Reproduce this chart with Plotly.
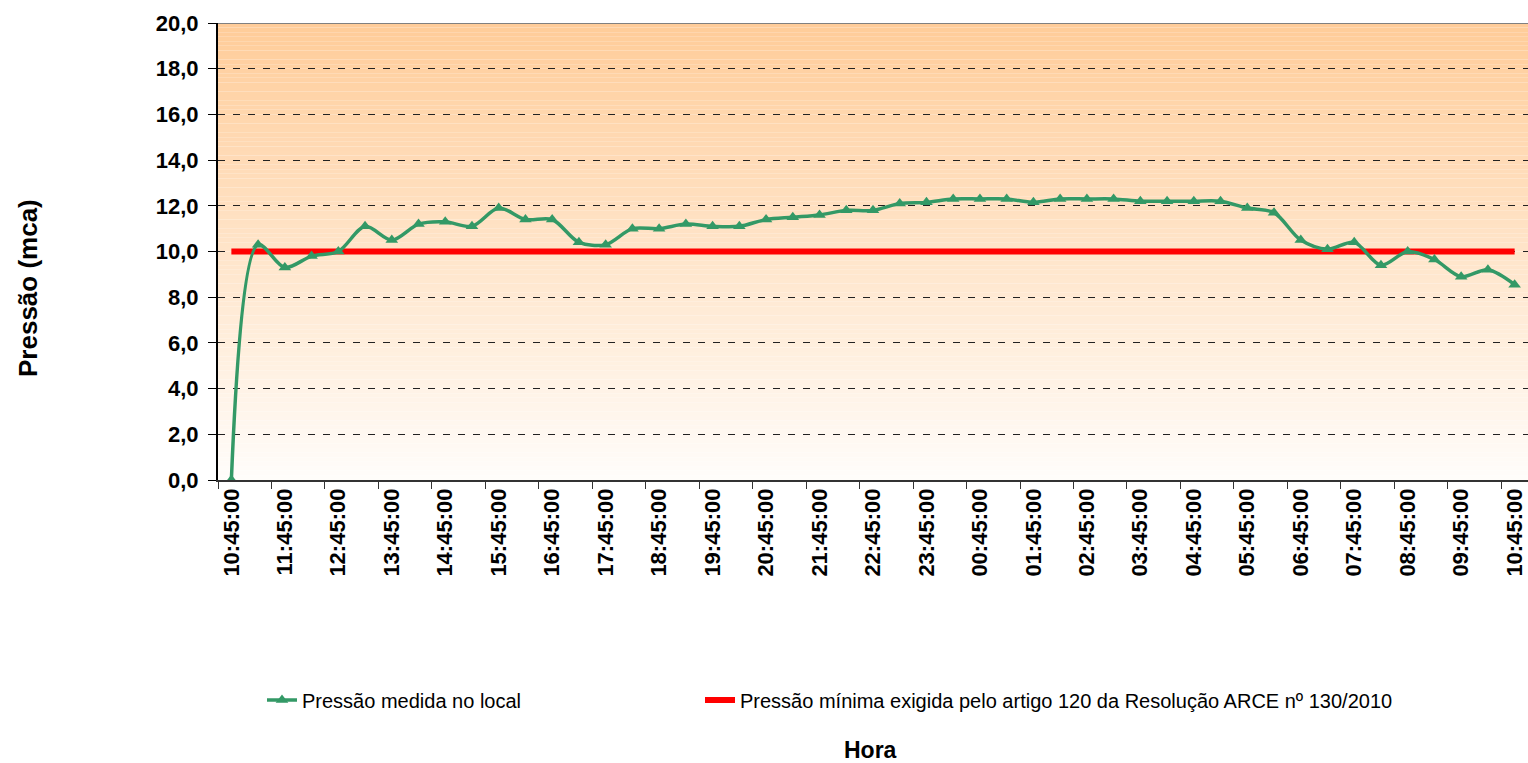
import plotly.graph_objects as go

# ---- data ----
times = ["10:45:00", "11:15:00", "11:45:00", "12:15:00", "12:45:00", "13:15:00", "13:45:00",
         "14:15:00", "14:45:00", "15:15:00", "15:45:00", "16:15:00", "16:45:00", "17:15:00",
         "17:45:00", "18:15:00", "18:45:00", "19:15:00", "19:45:00", "20:15:00", "20:45:00",
         "21:15:00", "21:45:00", "22:15:00", "22:45:00", "23:15:00", "23:45:00", "00:15:00",
         "00:45:00", "01:15:00", "01:45:00", "02:15:00", "02:45:00", "03:15:00", "03:45:00",
         "04:15:00", "04:45:00", "05:15:00", "05:45:00", "06:15:00", "06:45:00", "07:15:00",
         "07:45:00", "08:15:00", "08:45:00", "09:15:00", "09:45:00", "10:15:00", "10:45:00"]
pressao_medida = [0.0, 10.3, 9.3, 9.8, 10.0, 11.1, 10.5, 11.2, 11.3, 11.1, 11.9, 11.4, 11.4,
                  10.4, 10.3, 11.0, 11.0, 11.2, 11.1, 11.1, 11.4, 11.5, 11.6, 11.8, 11.8,
                  12.1, 12.15, 12.3, 12.3, 12.3, 12.15, 12.3, 12.3, 12.3, 12.2, 12.2, 12.2,
                  12.2, 11.9, 11.7, 10.5, 10.1, 10.4, 9.4, 10.0, 9.65, 8.9, 9.2, 8.55]
pressao_minima = [10.0] * len(times)

serie_medida = "Pressão medida no local"
serie_minima = "Pressão mínima exigida pelo artigo 120 da Resolução ARCE nº 130/2010"
y_title = "Pressão (mca)"
x_title = "Hora"

# ---- geometry ----
W, H = 1528, 763
ML, MT, MR, MB = 218, 23, 0, 283
PW = W - ML - MR          # plot width
PH = H - MT - MB          # plot height


def px_x(page_x):
    return (page_x - ML) / PW


def px_y(page_y):
    return 1 - (page_y - MT) / PH


idx = list(range(len(times)))
label_idx = idx[::2]
label_txt = times[::2]
boundaries = [i - 0.5 for i in idx[::2]] + [idx[-1] + 0.5]

fig = go.Figure()
fig.add_trace(go.Scatter(
    x=idx, y=pressao_minima, name=serie_minima, mode="lines",
    line=dict(color="#FF0000", width=6),
    xaxis="x", yaxis="y", legend="legend2"))
fig.add_trace(go.Scatter(
    x=idx, y=pressao_medida, name=serie_medida, mode="lines+markers",
    line=dict(color="#339966", width=3.5, shape="spline", smoothing=0.9),
    marker=dict(symbol="triangle-up", size=11, color="#339966"),
    xaxis="x2", yaxis="y", legend="legend"))

# gradient background bands
shapes = []
n_bands = 100
top = (255, 204, 153)
bot = (255, 253, 250)
for k in range(n_bands):
    y0 = 20 * k / n_bands
    y1 = 20 * (k + 1) / n_bands
    t = (k + 0.5) / n_bands
    c = tuple(round(bot[j] + (top[j] - bot[j]) * t) for j in range(3))
    shapes.append(dict(type="rect", xref="x domain", yref="y", x0=0, x1=1, y0=y0, y1=y1,
                       fillcolor="rgb(%d,%d,%d)" % c, line=dict(width=0), layer="below"))
shapes.append(dict(type="line", xref="x domain", yref="y", x0=0, x1=1, y0=20, y1=20,
                   line=dict(color="#808080", width=2), layer="above"))

rng = [-0.5, idx[-1] + 0.5]
legend_common = dict(orientation="h", xanchor="left", yanchor="middle",
                     font=dict(size=20, color="black"), bgcolor="rgba(0,0,0,0)")
fig.update_layout(
    width=W, height=H,
    margin=dict(l=ML, r=MR, t=MT, b=MB),
    paper_bgcolor="white", plot_bgcolor="rgba(0,0,0,0)",
    separators=",.",
    font=dict(family="Liberation Sans, Arial, sans-serif", color="black"),
    shapes=shapes,
    showlegend=True,
    legend=dict(x=px_x(262), y=px_y(700), **legend_common),
    legend2=dict(x=px_x(700), y=px_y(700), **legend_common),
    xaxis=dict(range=rng, tickmode="array", tickvals=label_idx, ticktext=label_txt,
               tickangle=-90, ticks="", showgrid=False, zeroline=False,
               showline=True, linecolor="#333333", linewidth=1.5, ticklabelstandoff=-2,
               tickfont=dict(size=22, weight="bold", color="black")),
    xaxis2=dict(range=rng, overlaying="x", anchor="y", side="bottom", tickmode="array",
                tickvals=boundaries, ticks="outside", ticklen=8, tickcolor="#333333",
                showticklabels=False, showgrid=False, zeroline=False, showline=False),
    yaxis=dict(range=[0, 20], tickmode="linear", tick0=0, dtick=2, tickformat=".1f",
               ticks="outside", ticklen=8, tickcolor="black", ticklabelstandoff=5,
               showgrid=True, gridcolor="#222222", gridwidth=1, griddash="7px,8px",
               zeroline=False, showline=True, linecolor="black", linewidth=2,
               tickfont=dict(size=22, weight="bold", color="black")),
    annotations=[
        dict(text=y_title, xref="paper", yref="paper", x=px_x(28), y=px_y(288),
             xanchor="center", yanchor="middle",
             showarrow=False, textangle=-90, font=dict(size=26, weight="bold", color="black")),
        dict(text=x_title, xref="paper", yref="paper", x=px_x(870), y=px_y(750),
             xanchor="center", yanchor="middle",
             showarrow=False, font=dict(size=23, weight="bold", color="black")),
    ],
)

fig.write_html("out.html", config={"displayModeBar": False},
               post_script="document.body.style.margin='0';document.body.style.overflow='hidden';")
